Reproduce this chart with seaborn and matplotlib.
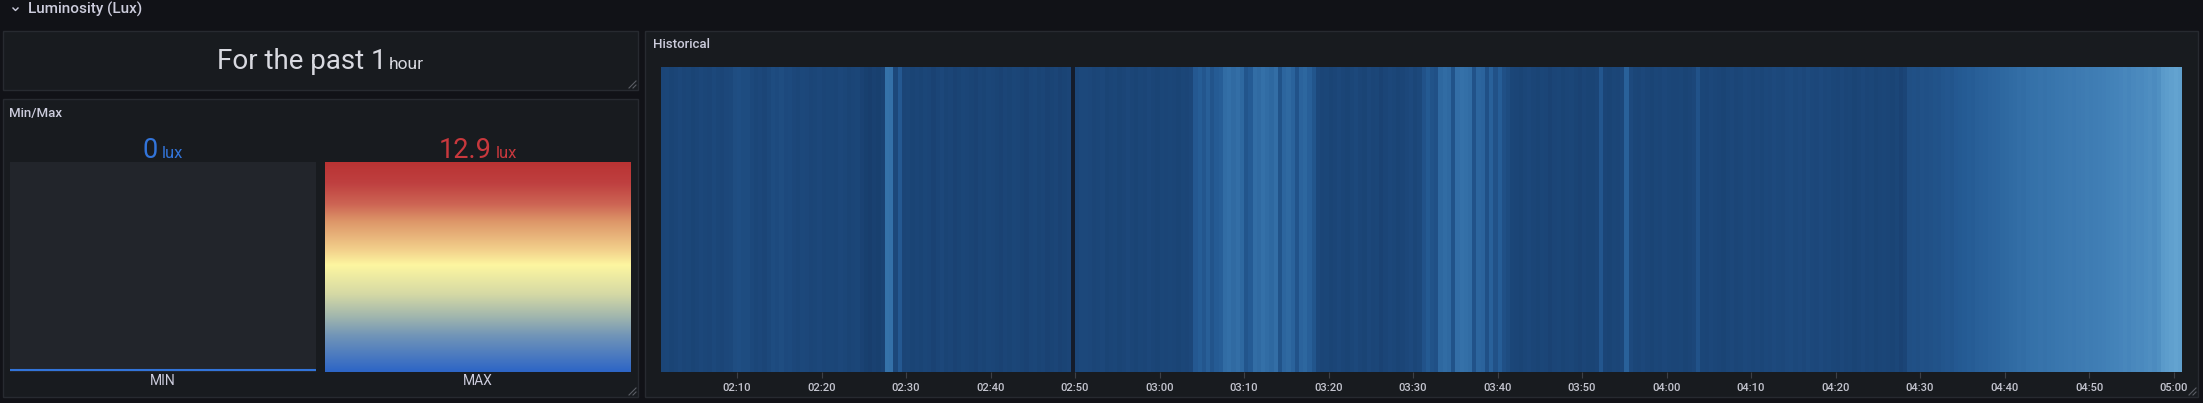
import numpy as np
import pandas as pd
import seaborn as sns
import matplotlib.pyplot as plt
from matplotlib.colors import LinearSegmentedColormap
from matplotlib.patches import Rectangle
from matplotlib.lines import Line2D

W, H = 2203, 403
PAGE_BG = '#111217'
PANEL_BG = '#181b1f'
BORDER = '#272a30'
TEXT = '#ccccdc'
TRACK = '#22252b'
GAP = '#141c2b'
nan = np.nan

# lux readings in 30 s buckets starting 02:01 (one row = 10 minutes)
start_time = '02:01'
bucket_seconds = 30
lux_rows = [
    [2.0, 2.1, 1.9, 2.0, 2.2, 2.0, 2.1, 1.9, 2.0, 2.2, 2.1, 2.0, 2.3, 2.1, 2.0, 2.2, 2.3, 2.7, 2.8, 2.6],
    [2.6, 2.3, 2.1, 2.2, 2.0, 2.3, 2.6, 2.5, 2.7, 2.4, 2.5, 2.2, 2.1, 2.3, 2.2, 2.0, 2.1, 2.2, 2.0, 2.1],
    [2.1, 2.0, 2.2, 2.1, 1.9, 2.0, 2.1, 1.8, 1.6, 1.5, 1.7, 1.6, 1.8, 6.2, 6.0, 2.2, 3.8, 2.0, 2.1, 1.9],
    [2.0, 1.9, 2.1, 2.0, 1.8, 2.0, 2.2, 1.9, 2.0, 1.8, 1.9, 2.1, 2.0, 1.9, 1.8, 2.0, 1.9, 2.1, 2.0, 1.9],
    [1.8, 2.0, 1.9, 2.1, 2.0, 1.9, 1.8, 2.0, 2.1, 1.9, 2.0, 1.8, 1.9, 2.0, 1.8, 1.9, 2.0, nan, 2.1, 2.3],
    [2.3, 2.2, 2.0, 2.1, 2.2, 1.9, 2.0, 2.1, 1.9, 2.0, 2.2, 2.0, 1.9, 2.1, 2.0, 2.2, 2.0, 1.9, 2.1, 2.0],
    [2.1, 2.0, 1.9, 2.1, 2.0, 2.2, 3.8, 4.2, 3.6, 4.4, 3.4, 4.0, 4.3, 5.6, 5.9, 5.4, 5.8, 5.2, 3.5, 4.0],
    [5.7, 5.4, 6.0, 5.6, 5.2, 5.8, 3.3, 5.0, 5.3, 4.7, 3.2, 4.8, 5.1, 4.4, 3.5, 2.2, 2.0, 2.1, 1.9, 2.0],
    [2.2, 2.0, 1.9, 2.1, 2.3, 2.0, 1.9, 2.2, 2.0, 2.1, 1.8, 2.0, 2.2, 2.1, 1.9, 2.0, 2.2, 2.4, 2.1, 2.3],
    [3.2, 3.9, 3.3, 3.0, 5.2, 5.6, 5.3, 3.3, 5.8, 6.1, 5.9, 5.6, 3.2, 5.0, 4.8, 3.0, 4.6, 3.1, 4.2, 3.0],
    [2.6, 2.1, 2.0, 1.9, 2.1, 2.2, 2.0, 1.9, 2.1, 2.0, 1.8, 2.0, 2.1, 1.9, 2.0, 2.1, 1.9, 1.8, 2.0, 1.9],
    [1.9, 2.0, 3.6, 2.0, 1.9, 2.1, 2.0, 2.2, 4.6, 2.4, 2.1, 2.0, 2.2, 2.0, 1.9, 2.1, 2.0, 2.2, 2.1, 2.0],
    [2.0, 2.1, 1.9, 2.0, 2.2, 3.2, 2.1, 2.0, 2.2, 2.1, 2.0, 1.9, 2.1, 2.2, 2.0, 2.1, 2.3, 2.2, 2.1, 2.2],
    [2.1, 2.3, 2.2, 2.4, 2.3, 2.2, 2.4, 2.5, 2.3, 2.4, 2.2, 2.5, 2.3, 2.2, 2.4, 2.2, 2.3, 2.1, 2.0, 2.2],
    [2.0, 2.1, 1.9, 2.0, 2.2, 2.0, 2.1, 1.9, 2.0, 2.1, 2.0, 1.9, 2.1, 1.8, 2.0, 2.9, 3.0, 2.9, 3.1, 3.0],
    [3.1, 3.3, 3.2, 3.5, 3.6, 3.5, 3.8, 3.9, 4.0, 4.2, 4.1, 4.4, 4.5, 4.6, 4.8, 4.9, 5.0, 5.2, 5.3, 5.5],
    [5.6, 5.8, 5.7, 6.0, 6.1, 6.2, 6.4, 6.3, 6.6, 6.7, 6.9, 7.0, 7.1, 7.3, 7.2, 7.5, 7.6, 7.8, 7.7, 7.9],
    [8.0, 8.2, 8.4, 8.5, 8.7, 8.9, 9.2, 9.0, 9.4, 9.6, 9.5, 9.9, 10.2, 9.8, 10.4, 11.8, 12.2, 12.5, 12.9, 12.6],
]
lux = [v for row in lux_rows for v in row]

stat_names = ['MIN', 'MAX']
stat_values = [0, 12.9]
unit = 'lux'

tick_labels = ['02:10', '02:20', '02:30', '02:40', '02:50', '03:00', '03:10', '03:20', '03:30',
               '03:40', '03:50', '04:00', '04:10', '04:20', '04:30', '04:40', '04:50', '05:00']

heat_cmap = LinearSegmentedColormap.from_list('lux_blues', [
    (0 / 13, '#0f2b50'), (2 / 13, '#1b4577'), (4 / 13, '#255b94'),
    (6 / 13, '#3470a8'), (9 / 13, '#4685bb'), (13 / 13, '#63a3d0')])
heat_cmap.set_bad(GAP)
gauge_cmap = LinearSegmentedColormap.from_list('gauge', [
    (0.0, '#2d65c6'), (0.17, '#7094b8'), (0.26, '#9fb5ae'), (0.37, '#d5d9a5'),
    (0.51, '#fdf6a0'), (0.58, '#f3d18c'), (0.72, '#dd9568'), (0.80, '#cd6554'),
    (0.9, '#bf4040'), (1.0, '#b93333')])

plt.rcParams['font.family'] = ['Roboto', 'DejaVu Sans']

fig = plt.figure(figsize=(W / 100, H / 100), dpi=100, facecolor=PAGE_BG)


def fx(x):
    return x / W


def fy(y):
    return 1 - y / H


def axes_px(x0, y0, x1, y1):
    return fig.add_axes([fx(x0), fy(y1), (x1 - x0) / W, (y1 - y0) / H], zorder=2)


def panel(x0, y0, x1, y1):
    fig.patches.append(Rectangle((fx(x0), fy(y1)), (x1 - x0) / W, (y1 - y0) / H,
                                 transform=fig.transFigure, facecolor=PANEL_BG,
                                 edgecolor=BORDER, linewidth=1, zorder=-5))
    # resize handle
    for d in (7, 3):
        fig.lines.append(Line2D([fx(x1 - 2 - d), fx(x1 - 2)], [fy(y1 - 2), fy(y1 - 2 - d)],
                                transform=fig.transFigure, color='#5b5e66', lw=0.8, zorder=-4))


def split_text(xc, base, big, small, big_size, small_size, color, gap=3):
    r = fig.canvas.get_renderer()
    t1 = fig.text(0, fy(base), big, fontsize=big_size, color=color, va='baseline', ha='left', zorder=5)
    t2 = fig.text(0, fy(base), small, fontsize=small_size, color=color, va='baseline', ha='left', zorder=5)
    w1 = t1.get_window_extent(r).width
    w2 = t2.get_window_extent(r).width
    left = xc - (w1 + gap + w2) / 2
    t1.set_x(fx(left))
    t2.set_x(fx(left + w1 + gap))


# row header
fig.lines.append(Line2D([fx(13), fx(15.5), fx(18)], [fy(8), fy(10.5), fy(8)],
                        transform=fig.transFigure, color=TEXT, lw=1))
fig.text(fx(28), fy(9), 'Luminosity (Lux)', fontsize=11, color=TEXT,
         fontweight='medium', va='center', ha='left')

panel(3, 31, 638, 90)
panel(3, 99, 638, 397)
panel(645, 31, 2198, 397)

split_text(320, 69, 'For the past 1', 'hour', 20, 12.5, '#d8d9e0', gap=2)

fig.text(fx(9), fy(113), 'Min/Max', fontsize=9.5, color=TEXT, fontweight='medium', va='center')
fig.text(fx(653), fy(44), 'Historical', fontsize=9.5, color=TEXT, fontweight='medium', va='center')

# bar gauges
ax_g = axes_px(10, 162, 631, 372)
vmax = max(stat_values)
sns.barplot(x=stat_names, y=[vmax] * len(stat_names), color=TRACK, width=0.97,
            errorbar=None, ax=ax_g, saturation=1)
sns.barplot(x=stat_names, y=stat_values, color='#2d65c6', width=0.97,
            errorbar=None, ax=ax_g, saturation=1)
ax_g.set_xlim(-0.485, len(stat_names) - 0.515)
ax_g.set_ylim(0, vmax)
ax_g.axis('off')
value_patches = ax_g.patches[len(stat_names):]
grad = np.linspace(0, 1, 256).reshape(-1, 1)
for patch, name, val in zip(value_patches, stat_names, stat_values):
    x0, w, h = patch.get_x(), patch.get_width(), patch.get_height()
    if h > 0:
        im = ax_g.imshow(grad, cmap=gauge_cmap, origin='lower', aspect='auto',
                         extent=[x0, x0 + w, 0, h], zorder=3)
        im.set_clip_path(patch)
        patch.set_facecolor('none')
    else:
        ax_g.plot([x0, x0 + w], [vmax * 0.008] * 2, color='#3274d9', lw=1.5,
                  solid_capstyle='butt', clip_on=False, zorder=4)
    ax_g.set_xlim(-0.485, len(stat_names) - 0.515)
    ax_g.set_ylim(0, vmax)
    xc = ax_g.transData.transform((x0 + w / 2, 0))[0]
    split_text(xc, 158, f'{val:g}', unit, 19.5, 12, '#3274d9' if val == 0 else '#c8383d', gap=4)
    fig.text(fx(xc), fy(381), name, fontsize=10, color=TEXT, ha='center', va='center')

# historical heatmap
ax_h = axes_px(661, 67, 2182, 372)
times = pd.date_range('2024-01-01 ' + start_time, periods=len(lux), freq=f'{bucket_seconds}s')
df = pd.DataFrame([lux], columns=times.strftime('%H:%M:%S'))
sns.heatmap(df, ax=ax_h, cmap=heat_cmap, vmin=0, vmax=13, cbar=False,
            xticklabels=False, yticklabels=False, linewidths=0, linecolor=GAP)
ax_h.set_facecolor(GAP)
pos = [(pd.Timestamp('2024-01-01 ' + t) - times[0]).total_seconds() / bucket_seconds
       for t in tick_labels]
ax_h.set_xticks(pos)
ax_h.set_xticklabels(tick_labels, rotation=0)
ax_h.tick_params(axis='x', length=4, width=0.8, color='#3d4047', labelcolor='#c4c5cf',
                 labelsize=8, pad=4, bottom=True)
for lab in ax_h.get_xticklabels():
    lab.set_fontweight('medium')
ax_h.set_xlabel('')
ax_h.set_ylabel('')

fig.savefig('out.png', dpi=100, facecolor=PAGE_BG)
